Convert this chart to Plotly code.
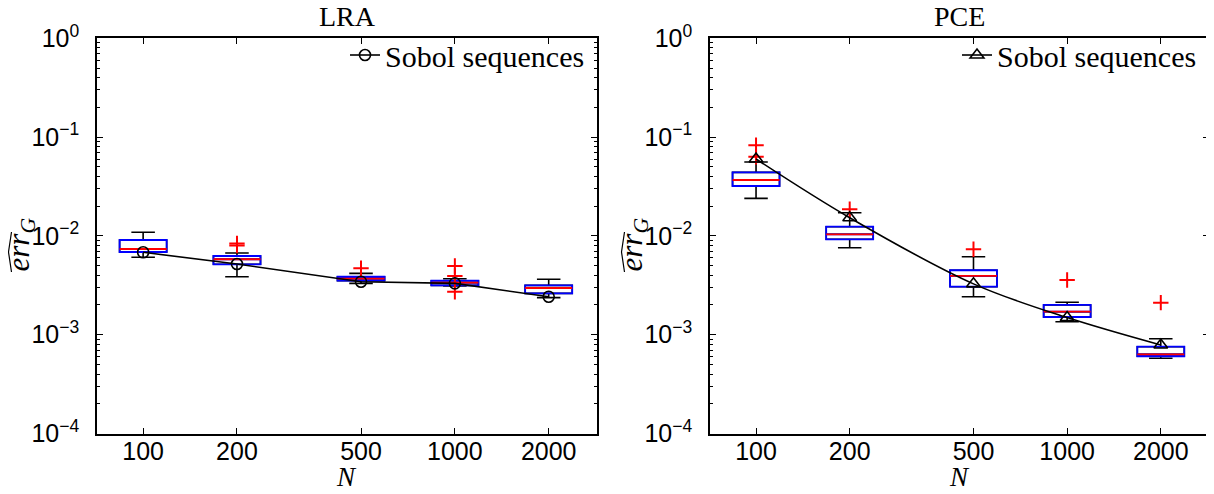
import numpy as np
import plotly.graph_objects as go

# ---------------- data ----------------
N = [100, 200, 500, 1000, 2000]
N_labels = ["100", "200", "500", "1000", "2000"]
y_tick_vals = [1e-4, 1e-3, 1e-2, 1e-1, 1e0]
y_tick_text = ["10<sup>−4</sup>", "10<sup>−3</sup>", "10<sup>−2</sup>",
               "10<sup>−1</sup>", "10<sup>0</sup>"]
panel_titles = ["LRA", "PCE"]
legend_label = "Sobol sequences"

# LRA box statistics
lra_q1 = [0.00687, 0.00516, 0.00352, 0.00316, 0.00262]
lra_median = [0.00737, 0.00580, 0.00369, 0.00336, 0.00297]
lra_q3 = [0.00909, 0.00626, 0.00386, 0.00352, 0.00316]
lra_low = [0.00607, 0.00386, 0.00331, 0.00311, 0.00237]
lra_high = [0.01087, 0.00671, 0.00418, 0.00369, 0.00364]
lra_out_N = [200, 200, 500, 1000, 1000, 1000]
lra_out_val = [0.0080, 0.0084, 0.00470, 0.00496, 0.00393, 0.00272]
lra_sobol = [0.00682, 0.00519, 0.00344, 0.00331, 0.00242]

# PCE box statistics
pce_q1 = [0.0320, 0.00924, 0.00306, 0.00151, 0.000605]
pce_median = [0.0368, 0.01038, 0.00393, 0.00171, 0.000633]
pce_q3 = [0.0440, 0.01239, 0.00449, 0.00200, 0.000756]
pce_low = [0.0240, 0.00760, 0.00242, 0.00135, 0.000577]
pce_high = [0.0560, 0.01717, 0.00616, 0.00213, 0.000911]
pce_out_N = [100, 100, 200, 500, 1000, 2000]
pce_out_val = [0.0826, 0.0633, 0.01859, 0.00732, 0.00358, 0.00211]
pce_sobol = [0.0600, 0.01528, 0.00327, 0.00149, 0.000786]

# ---------------- layout constants ----------------
# the page body has an 8px margin, so the figure is drawn from (8, 8)
OFF = 8
W, H = 1214 - OFF, 494 - OFF
BOX_W = 0.151
xs = list(np.log10(N))
SERIF = "Liberation Serif"
SANS = "Liberation Sans"

def px(x):
    return (x - OFF) / W

def py(y):
    return 1 - (y - OFF) / H

fig = go.Figure()

panels = [
    dict(q1=lra_q1, med=lra_median, q3=lra_q3, lo=lra_low, hi=lra_high,
         oN=lra_out_N, ov=lra_out_val, s=lra_sobol, sym="circle-open", msize=11,
         shape="linear", xa="x", ya="y", leg="legend"),
    dict(q1=pce_q1, med=pce_median, q3=pce_q3, lo=pce_low, hi=pce_high,
         oN=pce_out_N, ov=pce_out_val, s=pce_sobol, sym="triangle-up-open", msize=12,
         shape="spline", xa="x2", ya="y2", leg="legend2"),
]

for p in panels:
    common = dict(x=xs, width=BOX_W, xaxis=p["xa"], yaxis=p["ya"],
                  showlegend=False, hoverinfo="skip",
                  fillcolor="rgba(0,0,0,0)", boxpoints=False)
    # whiskers (black)
    fig.add_trace(go.Box(q1=p["q1"], median=p["med"], q3=p["q3"],
                         lowerfence=p["lo"], upperfence=p["hi"],
                         line=dict(color="black", width=1.6), whiskerwidth=0.5,
                         **common))
    # box (blue)
    fig.add_trace(go.Box(q1=p["q1"], median=p["med"], q3=p["q3"],
                         lowerfence=p["q1"], upperfence=p["q3"],
                         line=dict(color="#0000ff", width=1.8), whiskerwidth=0,
                         **common))
    # median (red)
    fig.add_trace(go.Box(q1=p["med"], median=p["med"], q3=p["med"],
                         lowerfence=p["med"], upperfence=p["med"],
                         line=dict(color="#ff0000", width=1.8), whiskerwidth=0,
                         **common))
    # outliers
    fig.add_trace(go.Scatter(x=list(np.log10(p["oN"])), y=p["ov"], mode="markers",
                             marker=dict(symbol="cross-thin-open", size=11, color="#ff0000",
                                         line=dict(color="#ff0000", width=2)),
                             xaxis=p["xa"], yaxis=p["ya"], showlegend=False,
                             hoverinfo="skip"))
    # Sobol sequences
    fig.add_trace(go.Scatter(x=xs, y=p["s"], mode="lines+markers", name=legend_label,
                             line=dict(color="black", width=1.6, shape=p["shape"]),
                             marker=dict(symbol=p["sym"], size=p["msize"], color="black",
                                         line=dict(color="black", width=1.6)),
                             xaxis=p["xa"], yaxis=p["ya"], legend=p["leg"]))

dom_left = [px(97), px(597)]
dom_right = [px(710), px(1209)]
ydom = [py(433.5), py(38.3)]
xrange_ = [1.852, 3.456]

minor_vals = [m * 10 ** e for e in range(-4, 0) for m in range(2, 10)]

def xaxis(dom, anchor):
    return dict(domain=dom, anchor=anchor, range=xrange_, tickmode="array",
                tickvals=xs, ticktext=N_labels, ticks="inside", ticklen=6,
                tickwidth=1, tickcolor="black", showline=True, linecolor="black",
                linewidth=1.6, mirror="ticks", showgrid=False, zeroline=False,
                automargin=False, ticklabelstandoff=-5,
                tickfont=dict(family=SANS, size=25, color="black"))

def yaxis(anchor):
    return dict(domain=ydom, anchor=anchor, type="log", range=[-4, 0],
                tickmode="array", tickvals=y_tick_vals, ticktext=y_tick_text,
                ticks="inside", ticklen=6, tickwidth=1, tickcolor="black",
                minor=dict(tickmode="array", tickvals=minor_vals, ticks="inside",
                           ticklen=3, tickwidth=1, tickcolor="black", showgrid=False),
                showline=True, linecolor="black", linewidth=1.6, mirror="ticks",
                showgrid=False, zeroline=False, automargin=False, ticklabelstandoff=11,
                tickfont=dict(family=SANS, size=25, color="black"))

legend_common = dict(xref="paper", yref="paper", xanchor="right", yanchor="top",
                     bgcolor="rgba(0,0,0,0)", borderwidth=0,
                     font=dict(family=SERIF, size=30, color="black"),
                     tracegroupgap=0)

annotations = []
for title, cx in zip(panel_titles, [347, 959.5]):
    annotations.append(dict(text=title, x=px(cx), y=py(17), xref="paper", yref="paper",
                            xanchor="center", yanchor="middle", showarrow=False,
                            font=dict(family=SERIF, size=28, color="black")))
for cx in [346, 959]:
    annotations.append(dict(text="<i>N</i>", x=px(cx), y=py(477), xref="paper", yref="paper",
                            xanchor="center", yanchor="middle", showarrow=False,
                            font=dict(family=SERIF, size=27, color="black")))
shapes = []
for off in [0, 613]:
    annotations.append(dict(text="<i>err</i><sub><i>G</i></sub>", x=px(20.5 + off), y=py(245),
                            xref="paper", yref="paper", xanchor="center", yanchor="middle",
                            showarrow=False, textangle=-90,
                            font=dict(family=SERIF, size=31, color="black")))
    shapes.append(dict(type="path", xref="paper", yref="paper",
                       path=f"M {px(11.5 + off)},{py(272)} L {px(8.5 + off)},{py(252)} L {px(11.5 + off)},{py(232)}",
                       line=dict(color="black", width=1.2)))

fig.update_layout(
    width=W, height=H, margin=dict(l=0, r=0, t=0, b=0, autoexpand=False),
    paper_bgcolor="white", plot_bgcolor="white", boxmode="overlay",
    xaxis=xaxis(dom_left, "y"), yaxis=yaxis("x"),
    xaxis2=xaxis(dom_right, "y2"), yaxis2=yaxis("x2"),
    legend=dict(x=px(590), y=py(29), **legend_common),
    legend2=dict(x=px(1202), y=py(29), **legend_common),
    annotations=annotations, shapes=shapes,
)

fig.write_html("out.html")
